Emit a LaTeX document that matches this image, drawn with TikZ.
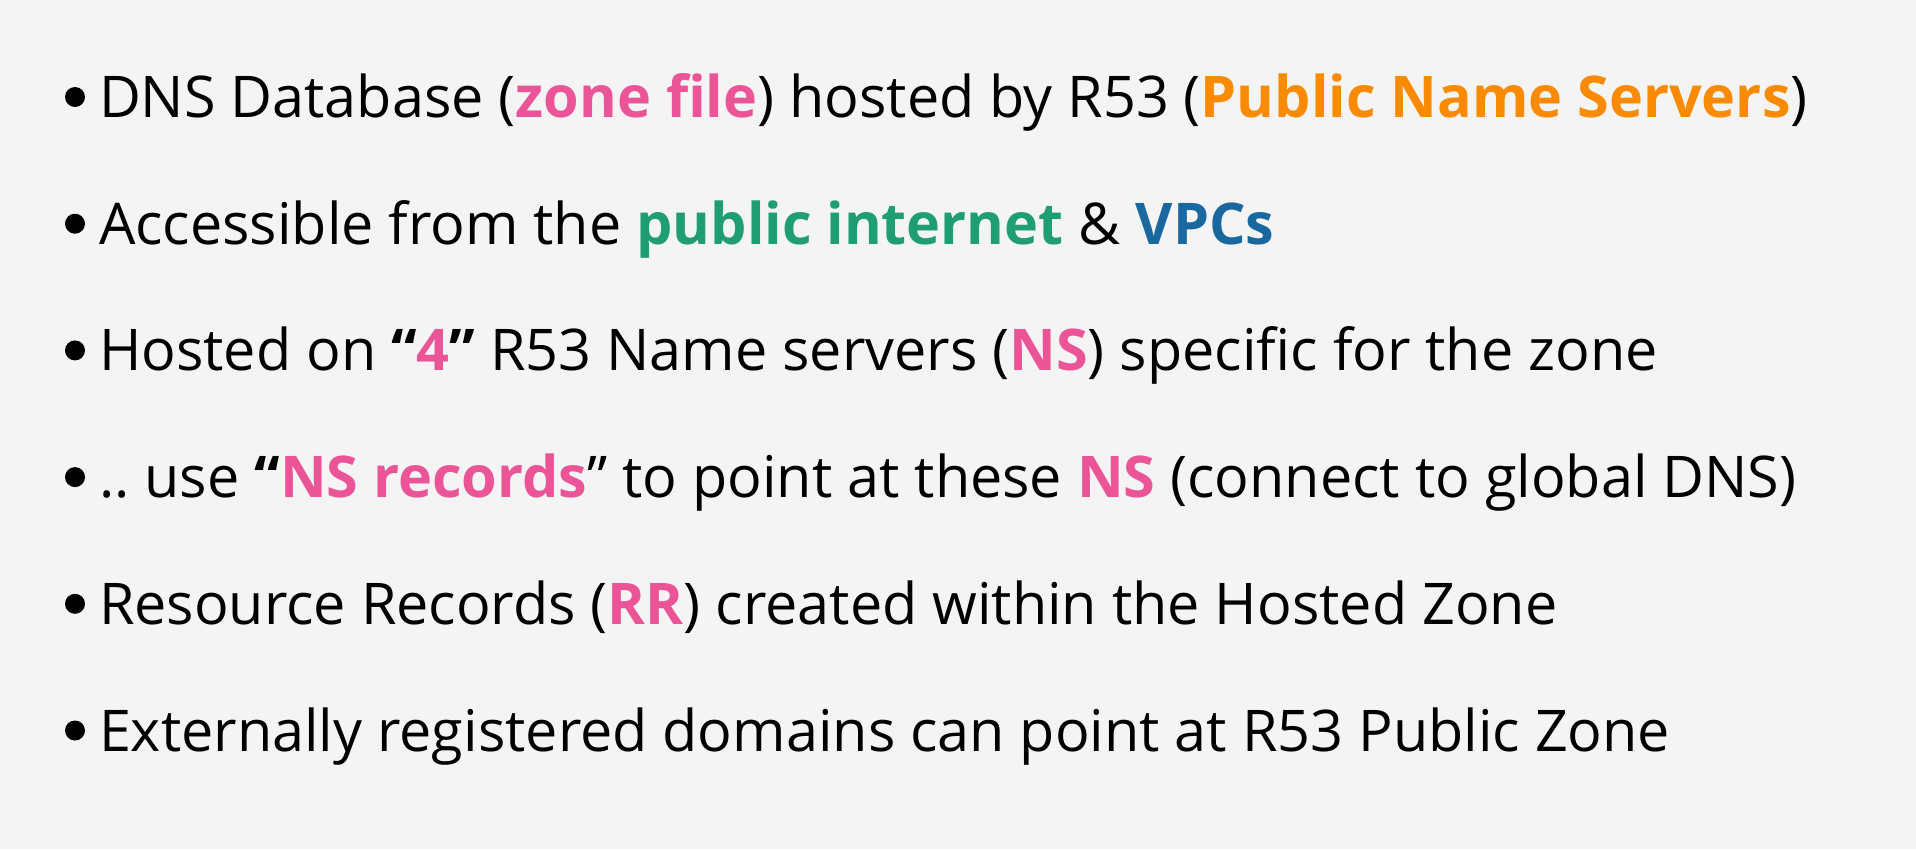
\documentclass[tikz,border=0pt]{standalone}
\usepackage{fontspec}
\setmainfont{Open Sans}
\frenchspacing
\definecolor{bgc}{HTML}{F4F4F4}
\definecolor{pinkc}{HTML}{EC5498}
\definecolor{orangec}{HTML}{FA8A00}
\definecolor{greenc}{HTML}{1F9E73}
\definecolor{bluec}{HTML}{1A68A0}
\newcommand{\hl}[2]{\textbf{\textcolor{#1}{#2}}}
\begin{document}
\begin{tikzpicture}[x=1pt,y=-1pt,
  line/.style={anchor=base west,inner sep=0pt,outer sep=0pt,font=\fontsize{57.5}{70}\selectfont},
  dot/.style={circle,fill=black,minimum size=20pt,inner sep=0pt}]
\fill[bgc] (0,0) rectangle (1916,849);
\useasboundingbox (0,0) rectangle (1916,849);
\foreach \i/\y in {1/117.5,2/244.2,3/370.9,4/497.6,5/624.3,6/751}
  \node[dot] (b\i) at (75,\y-20.5) {};
\node[line] (l1) at (99,117.5) {DNS Database (\hl{pinkc}{zone file}) hosted by R53 (\hl{orangec}{Public Name Servers})};
\node[line] (l2) at (99,244.2) {Accessible from the \hl{greenc}{public internet} \& \hl{bluec}{VPCs}};
\node[line] (l3) at (99,370.9) {Hosted on \textbf{“\textcolor{pinkc}{4}”} R53 Name servers (\hl{pinkc}{NS}) specific for the zone};
\node[line] (l4) at (99,497.6) {.. use \textbf{“\textcolor{pinkc}{NS records}}” to point at these \hl{pinkc}{NS} (connect to global DNS)};
\node[line] (l5) at (99,624.3) {Resource Records (\hl{pinkc}{RR}) created within the Hosted Zone};
\node[line] (l6) at (99,751) {Externally registered domains can point at R53 Public Zone};
\end{tikzpicture}
\end{document}
